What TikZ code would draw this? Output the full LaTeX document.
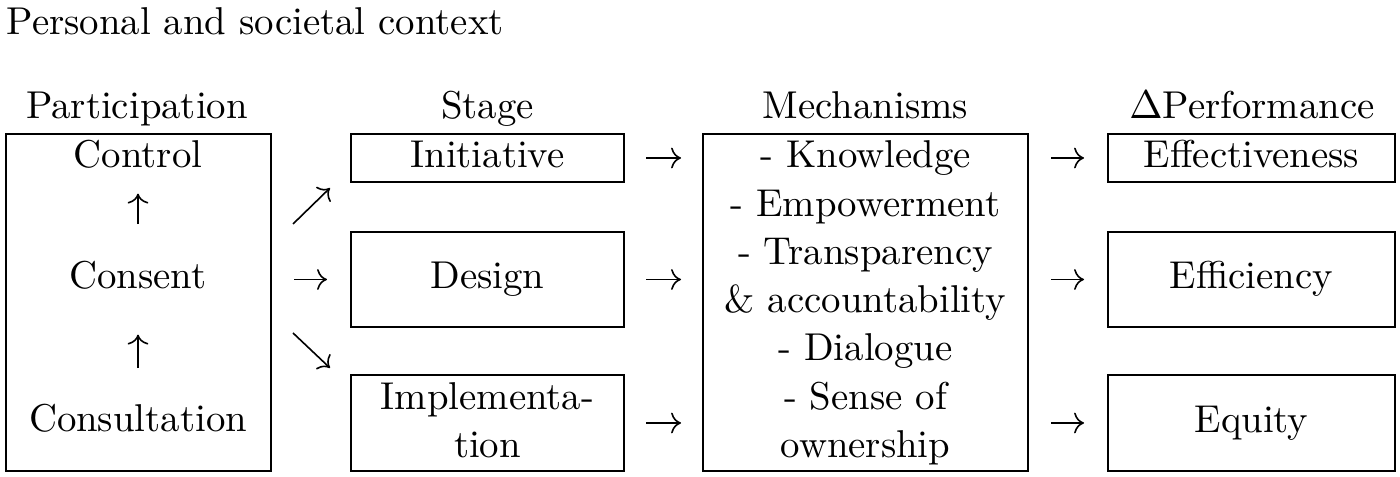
\documentclass[tikz,border=0pt]{standalone}
\usetikzlibrary{arrows.meta,calc}
\begin{document}
\begin{tikzpicture}[x=0.25pt,y=-0.25pt,
  every node/.style={font=\fontsize{9.7}{12}\selectfont},
  box/.style={draw,line width=0.5pt,inner sep=0pt,rectangle},
  txt/.style={inner sep=0pt,anchor=base},
  arr/.style={line width=0.4pt,-{Computer Modern Rightarrow}}]
\useasboundingbox (0,0) rectangle (1400,477);
% boxes
\node[box,minimum width=66.25pt,minimum height=84.25pt] (part) at (138.5,302.5) {};
\node[box,minimum width=68.25pt,minimum height=12pt] (init) at (487.5,158) {};
\node[box,minimum width=68.25pt,minimum height=23.75pt] (design) at (487.5,279.5) {};
\node[box,minimum width=68.25pt,minimum height=24pt] (impl) at (487.5,423) {};
\node[box,minimum width=81.25pt,minimum height=84.25pt] (mech) at (865.5,302.5) {};
\node[box,minimum width=71.75pt,minimum height=12pt] (eff) at (1251.5,158) {};
\node[box,minimum width=71.75pt,minimum height=23.75pt] (effi) at (1251.5,279.5) {};
\node[box,minimum width=71.75pt,minimum height=24pt] (eq) at (1251.5,423) {};
% title and headers
\node[txt,anchor=base west] (title) at (6,35) {Personal and societal context};
\node[txt] (hpart) at (137,119) {Participation};
\node[txt] (hstage) at (487.5,119) {Stage};
\node[txt] (hmech) at (865.5,119) {Mechanisms};
\node[txt] (hperf) at (1252,119) {$\Delta$Performance};
% participation
\node[txt] (control) at (138,168) {Control};
\node[txt] (consent) at (138,289) {Consent};
\node[txt] (consult) at (138,432) {Consultation};
% stage
\node[txt] (tinit) at (487.5,168) {Initiative};
\node[txt] (tdesign) at (487.5,289) {Design};
\node[txt] (timpl1) at (487.5,410) {Implementa-};
\node[txt] (timpl2) at (487.5,458) {tion};
% mechanisms
\node[txt] (m1) at (865.5,168) {- Knowledge};
\node[txt] (m2) at (865.5,217) {- Empowerment};
\node[txt] (m3) at (865.5,265) {- Transparency};
\node[txt] (m4) at (865.5,313) {\& accountability};
\node[txt] (m5) at (865.5,361) {- Dialogue};
\node[txt] (m6) at (865.5,410) {- Sense of};
\node[txt] (m7) at (865.5,458) {ownership};
% performance
\node[txt] (teff) at (1251.5,168) {Effectiveness};
\node[txt] (teffi) at (1251.5,289) {Efficiency};
\node[txt] (teq) at (1251.5,433) {Equity};
% arrows inside participation
\draw[arr,shorten <=9.2pt,shorten >=6pt] (consent.north) -- (control.south);
\draw[arr,shorten <=8.9pt,shorten >=11pt] (consult.north) -- (consent.south);
% arrows participation -> stage
\coordinate (ne0) at (293,224);
\coordinate (ne1) at (330,188);
\coordinate (se0) at (293,333);
\coordinate (se1) at (330,368);
\draw[arr] (ne0) -- (ne1);
\draw[arr] (se0) -- (se1);
\draw[arr,shorten <=5.5pt,shorten >=5.75pt] (part.east |- design) -- (design.west);
% stage -> mechanisms
\draw[arr,shorten <=5.25pt,shorten >=5.25pt] (init.east) -- (init.east -| mech.west);
\draw[arr,shorten <=5.25pt,shorten >=5.25pt] (design.east) -- (design.east -| mech.west);
\draw[arr,shorten <=5.25pt,shorten >=5.25pt] (impl.east) -- (impl.east -| mech.west);
% mechanisms -> performance
\draw[arr,shorten <=5.5pt,shorten >=5.75pt] (mech.east |- eff) -- (eff.west);
\draw[arr,shorten <=5.5pt,shorten >=5.75pt] (mech.east |- effi) -- (effi.west);
\draw[arr,shorten <=5.5pt,shorten >=5.75pt] (mech.east |- eq) -- (eq.west);
\end{tikzpicture}
\end{document}
